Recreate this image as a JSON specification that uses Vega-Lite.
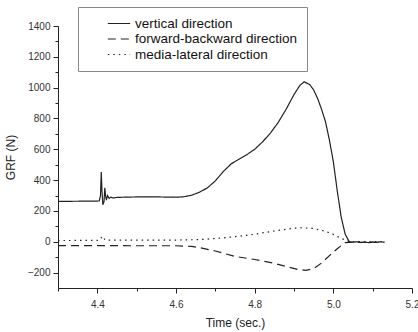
{
  "$schema": "https://vega.github.io/schema/vega-lite/v6.json",
  "autosize": "none",
  "width": 354,
  "height": 262,
  "padding": {"left": 58, "top": 26, "right": 6, "bottom": 44},
  "background": "white",
  "config": {
    "view": {"stroke": null},
    "font": "Liberation Sans",
    "axis": {"labelFont": "Liberation Sans", "titleFont": "Liberation Sans", "labelFontSize": 10, "titleFontSize": 12, "titleFontWeight": "normal", "labelColor": "#333", "titleColor": "#222", "domainColor": "#222", "tickColor": "#222", "grid": false}
  },
  "data": {"values": [
    {"t": 4.30, "v": 262, "s": "vertical direction"},
    {"t": 4.35, "v": 263, "s": "vertical direction"},
    {"t": 4.40, "v": 264, "s": "vertical direction"},
    {"t": 4.405, "v": 266, "s": "vertical direction"},
    {"t": 4.408, "v": 300, "s": "vertical direction"},
    {"t": 4.410, "v": 452, "s": "vertical direction"},
    {"t": 4.412, "v": 320, "s": "vertical direction"},
    {"t": 4.414, "v": 240, "s": "vertical direction"},
    {"t": 4.417, "v": 260, "s": "vertical direction"},
    {"t": 4.419, "v": 350, "s": "vertical direction"},
    {"t": 4.421, "v": 300, "s": "vertical direction"},
    {"t": 4.423, "v": 270, "s": "vertical direction"},
    {"t": 4.426, "v": 300, "s": "vertical direction"},
    {"t": 4.43, "v": 282, "s": "vertical direction"},
    {"t": 4.435, "v": 290, "s": "vertical direction"},
    {"t": 4.44, "v": 284, "s": "vertical direction"},
    {"t": 4.45, "v": 288, "s": "vertical direction"},
    {"t": 4.50, "v": 291, "s": "vertical direction"},
    {"t": 4.55, "v": 291, "s": "vertical direction"},
    {"t": 4.60, "v": 289, "s": "vertical direction"},
    {"t": 4.62, "v": 292, "s": "vertical direction"},
    {"t": 4.64, "v": 302, "s": "vertical direction"},
    {"t": 4.66, "v": 322, "s": "vertical direction"},
    {"t": 4.68, "v": 350, "s": "vertical direction"},
    {"t": 4.70, "v": 395, "s": "vertical direction"},
    {"t": 4.72, "v": 455, "s": "vertical direction"},
    {"t": 4.74, "v": 505, "s": "vertical direction"},
    {"t": 4.76, "v": 535, "s": "vertical direction"},
    {"t": 4.78, "v": 565, "s": "vertical direction"},
    {"t": 4.80, "v": 600, "s": "vertical direction"},
    {"t": 4.82, "v": 648, "s": "vertical direction"},
    {"t": 4.84, "v": 705, "s": "vertical direction"},
    {"t": 4.86, "v": 775, "s": "vertical direction"},
    {"t": 4.88, "v": 860, "s": "vertical direction"},
    {"t": 4.90, "v": 955, "s": "vertical direction"},
    {"t": 4.915, "v": 1015, "s": "vertical direction"},
    {"t": 4.926, "v": 1038, "s": "vertical direction"},
    {"t": 4.94, "v": 1020, "s": "vertical direction"},
    {"t": 4.95, "v": 985, "s": "vertical direction"},
    {"t": 4.96, "v": 930, "s": "vertical direction"},
    {"t": 4.97, "v": 860, "s": "vertical direction"},
    {"t": 4.98, "v": 780, "s": "vertical direction"},
    {"t": 4.99, "v": 660, "s": "vertical direction"},
    {"t": 5.00, "v": 520, "s": "vertical direction"},
    {"t": 5.01, "v": 330, "s": "vertical direction"},
    {"t": 5.02, "v": 160, "s": "vertical direction"},
    {"t": 5.03, "v": 50, "s": "vertical direction"},
    {"t": 5.04, "v": 2, "s": "vertical direction"},
    {"t": 5.05, "v": -3, "s": "vertical direction"},
    {"t": 5.06, "v": 0, "s": "vertical direction"},
    {"t": 5.07, "v": -5, "s": "vertical direction"},
    {"t": 5.08, "v": -2, "s": "vertical direction"},
    {"t": 5.09, "v": -6, "s": "vertical direction"},
    {"t": 5.10, "v": -1, "s": "vertical direction"},
    {"t": 5.11, "v": -4, "s": "vertical direction"},
    {"t": 5.12, "v": 0, "s": "vertical direction"},
    {"t": 5.13, "v": -3, "s": "vertical direction"},
    {"t": 4.30, "v": -25, "s": "forward-backward direction"},
    {"t": 4.40, "v": -25, "s": "forward-backward direction"},
    {"t": 4.50, "v": -26, "s": "forward-backward direction"},
    {"t": 4.60, "v": -26, "s": "forward-backward direction"},
    {"t": 4.64, "v": -30, "s": "forward-backward direction"},
    {"t": 4.66, "v": -38, "s": "forward-backward direction"},
    {"t": 4.70, "v": -60, "s": "forward-backward direction"},
    {"t": 4.75, "v": -95, "s": "forward-backward direction"},
    {"t": 4.80, "v": -115, "s": "forward-backward direction"},
    {"t": 4.85, "v": -140, "s": "forward-backward direction"},
    {"t": 4.88, "v": -160, "s": "forward-backward direction"},
    {"t": 4.91, "v": -180, "s": "forward-backward direction"},
    {"t": 4.93, "v": -185, "s": "forward-backward direction"},
    {"t": 4.95, "v": -175, "s": "forward-backward direction"},
    {"t": 4.97, "v": -138, "s": "forward-backward direction"},
    {"t": 4.99, "v": -90, "s": "forward-backward direction"},
    {"t": 5.01, "v": -45, "s": "forward-backward direction"},
    {"t": 5.03, "v": -5, "s": "forward-backward direction"},
    {"t": 5.05, "v": -3, "s": "forward-backward direction"},
    {"t": 5.13, "v": -3, "s": "forward-backward direction"},
    {"t": 4.30, "v": 8, "s": "media-lateral direction"},
    {"t": 4.40, "v": 9, "s": "media-lateral direction"},
    {"t": 4.405, "v": 12, "s": "media-lateral direction"},
    {"t": 4.41, "v": 28, "s": "media-lateral direction"},
    {"t": 4.413, "v": 15, "s": "media-lateral direction"},
    {"t": 4.416, "v": 25, "s": "media-lateral direction"},
    {"t": 4.42, "v": 10, "s": "media-lateral direction"},
    {"t": 4.50, "v": 10, "s": "media-lateral direction"},
    {"t": 4.60, "v": 11, "s": "media-lateral direction"},
    {"t": 4.66, "v": 14, "s": "media-lateral direction"},
    {"t": 4.72, "v": 25, "s": "media-lateral direction"},
    {"t": 4.79, "v": 45, "s": "media-lateral direction"},
    {"t": 4.85, "v": 70, "s": "media-lateral direction"},
    {"t": 4.90, "v": 88, "s": "media-lateral direction"},
    {"t": 4.92, "v": 91, "s": "media-lateral direction"},
    {"t": 4.95, "v": 86, "s": "media-lateral direction"},
    {"t": 4.98, "v": 68, "s": "media-lateral direction"},
    {"t": 5.00, "v": 48, "s": "media-lateral direction"},
    {"t": 5.02, "v": 22, "s": "media-lateral direction"},
    {"t": 5.04, "v": 2, "s": "media-lateral direction"},
    {"t": 5.13, "v": 0, "s": "media-lateral direction"}
  ]},
  "mark": {"type": "line", "strokeWidth": 1.2, "color": "#222"},
  "encoding": {
    "x": {
      "field": "t", "type": "quantitative", "title": "Time (sec.)",
      "scale": {"domain": [4.3, 5.2], "nice": false, "zero": false},
      "axis": {
        "values": [4.3, 4.4, 4.5, 4.6, 4.7, 4.8, 4.9, 5.0, 5.1, 5.2],
        "labelExpr": "round(datum.value*10) % 2 == 0 ? format(datum.value, '.1f') : ''",
        "tickSize": {"condition": {"test": "round(datum.value*10) % 2 == 0", "value": 5}, "value": 3},
        "labelPadding": 6, "titlePadding": 8, "labelFlush": false
      }
    },
    "y": {
      "field": "v", "type": "quantitative", "title": "GRF (N)",
      "scale": {"domain": [-300, 1400], "nice": false, "zero": false},
      "axis": {
        "values": [-200, -100, 0, 100, 200, 300, 400, 500, 600, 700, 800, 900, 1000, 1100, 1200, 1300, 1400],
        "format": "d",
        "labelExpr": "datum.value % 200 == 0 ? datum.label : ''",
        "tickSize": {"condition": {"test": "datum.value % 200 == 0", "value": 5}, "value": 3},
        "labelPadding": 3, "titlePadding": 10
      }
    },
    "strokeDash": {
      "field": "s", "type": "nominal", "title": null,
      "sort": ["vertical direction", "forward-backward direction", "media-lateral direction"],
      "scale": {"domain": ["vertical direction", "forward-backward direction", "media-lateral direction"], "range": [[1, 0], [8, 5], [1.5, 4]]},
      "legend": {
        "orient": "none", "legendX": 20, "legendY": -19,
        "symbolType": "stroke", "symbolSize": 500, "symbolStrokeWidth": 1.2, "symbolStrokeColor": "#222", "symbolOffset": 20,
        "symbolDash": null,
        "labelFontSize": 13.5, "labelFont": "Liberation Sans", "labelColor": "#111", "labelLimit": 300,
        "clipHeight": 15, "rowPadding": 0.5, "padding": 9, "strokeColor": "#888", "fillColor": "white", "labelOffset": 4
      }
    }
  }
}
